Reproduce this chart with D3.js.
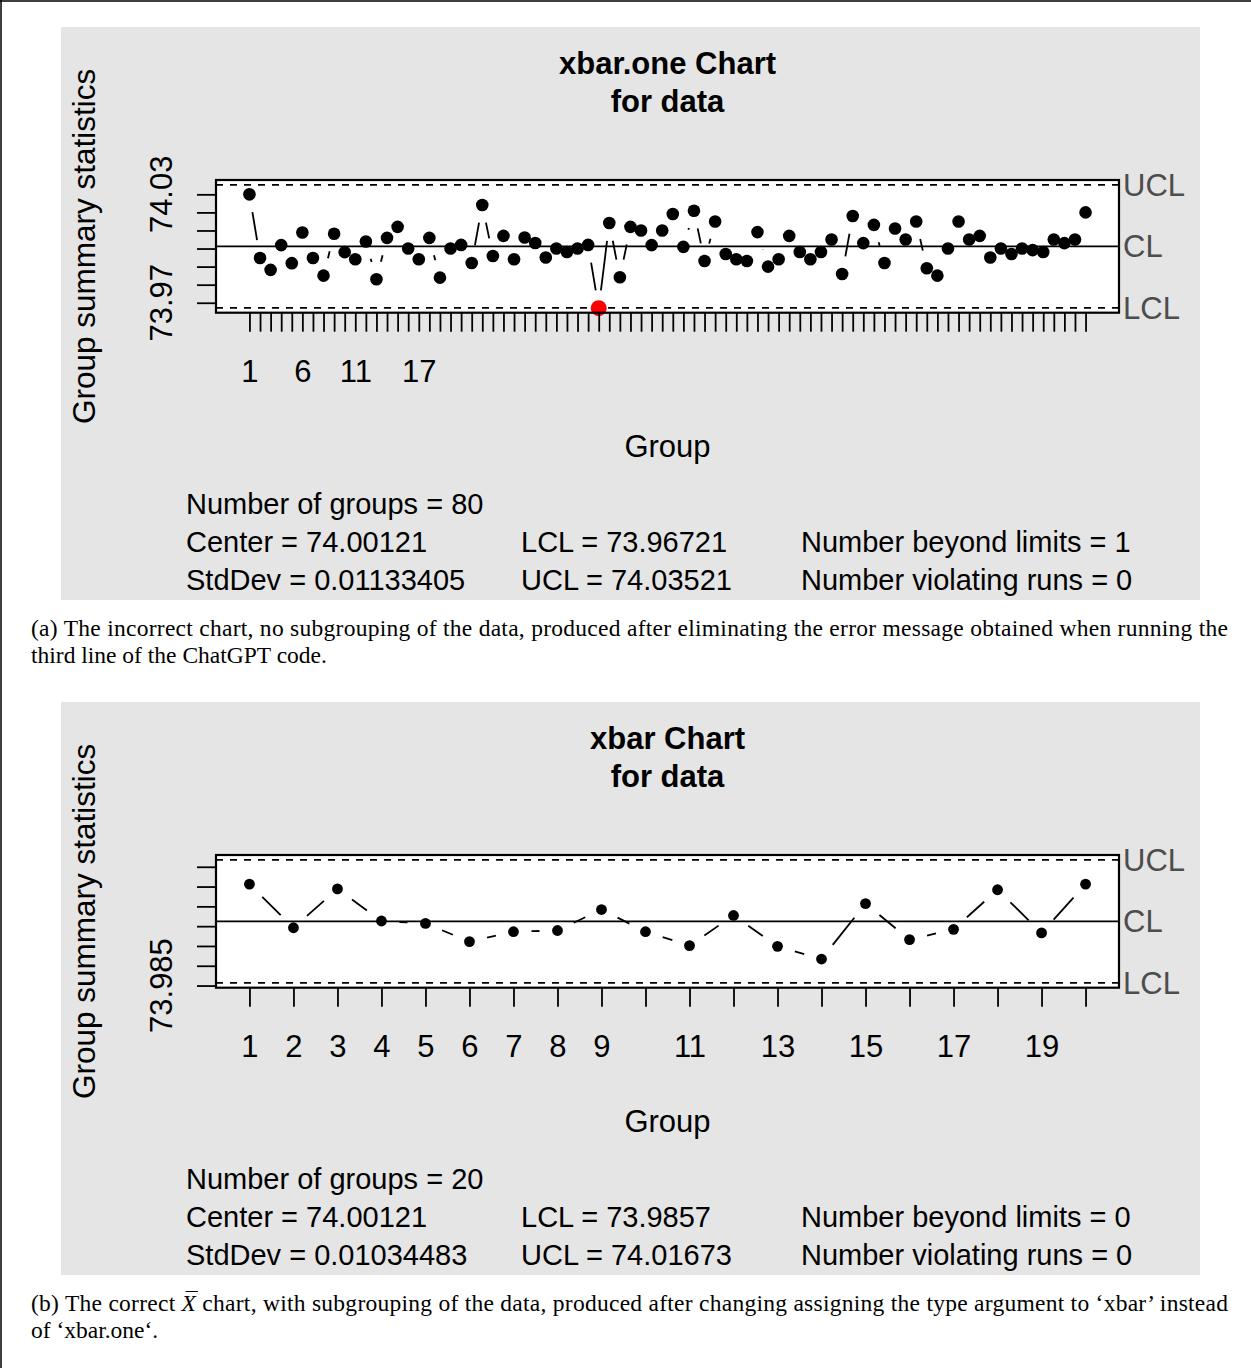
<!DOCTYPE html>
<html>
<head>
<meta charset="utf-8">
<script src="https://cdn.jsdelivr.net/npm/d3@7"></script>
<style>
  html, body { margin: 0; padding: 0; background: #fff; }
  svg { display: block; }
  .tick line { stroke: #000; stroke-width: 1.8; }
</style>
</head>
<body>
<svg id="fig" width="1251" height="1368"></svg>
<script>
// ---- data: chart (a), xbar.one, 80 single observations
var xbarOneValues = [
    74.0300, 73.9948, 73.9882, 74.0019, 73.9919, 74.0089, 73.9948, 73.9850, 74.0082, 73.9980,
    73.9941, 74.0039, 73.9830, 74.0059, 74.0120, 74.0000, 73.9941, 74.0059, 73.9839, 74.0000,
    74.0020, 73.9920, 74.0241, 73.9959, 74.0070, 73.9941, 74.0061, 74.0031, 73.9950, 74.0000,
    73.9981, 74.0000, 74.0020, 73.9670, 74.0141, 73.9841, 74.0120, 74.0100, 74.0019, 74.0100,
    74.0191, 74.0009, 74.0209, 73.9931, 74.0150, 73.9970, 73.9941, 73.9931, 74.0091, 73.9900,
    73.9941, 74.0070, 73.9981, 73.9941, 73.9981, 74.0050, 73.9859, 74.0180, 74.0030, 74.0131,
    73.9920, 74.0111, 74.0050, 74.0150, 73.9891, 73.9850, 74.0000, 74.0150, 74.0050, 74.0070,
    73.9950, 74.0000, 73.9970, 74.0000, 73.9991, 73.9981, 74.0050, 74.0030, 74.0050, 74.0200
];
var xbarOneLimits = {center: 74.00121, lcl: 73.96721, ucl: 74.03521};
var xbarOneYTicks = [73.97, 73.98, 73.99, 74.00, 74.01, 74.02, 74.03];
var xbarOneYLabels = ["73.97", "74.03"];
var xbarOneXLabels = [1, 6, 11, 17];
var xbarOneTitle = ["xbar.one Chart", "for data"];
var xbarOneStats = [
    ["Number of groups = 80", "", ""],
    ["Center = 74.00121", "LCL = 73.96721", "Number beyond limits = 1"],
    ["StdDev = 0.01133405", "UCL = 74.03521", "Number violating runs = 0"]
];
var captionA = [
    "(a) The incorrect chart, no subgrouping of the data, produced after eliminating the error message obtained when running the",
    "third line of the ChatGPT code."
];

// ---- data: chart (b), xbar, 20 subgroup means
var xbarValues = [
    74.0106, 73.9996, 74.0094, 74.0013, 74.0007, 73.9961, 73.9986, 73.9989, 74.0042, 73.9986,
    73.9951, 74.0027, 73.9949, 73.9917, 74.0057, 73.9966, 73.9992, 74.0092, 73.9983, 74.0106
];
var xbarLimits = {center: 74.00121, lcl: 73.9857, ucl: 74.01673};
var xbarYTicks = [73.985, 73.990, 73.995, 74.000, 74.005, 74.010, 74.015];
var xbarYLabels = ["73.985"];
var xbarXLabels = [1, 2, 3, 4, 5, 6, 7, 8, 9, 11, 13, 15, 17, 19];
var xbarTitle = ["xbar Chart", "for data"];
var xbarStats = [
    ["Number of groups = 20", "", ""],
    ["Center = 74.00121", "LCL = 73.9857", "Number beyond limits = 0"],
    ["StdDev = 0.01034483", "UCL = 74.01673", "Number violating runs = 0"]
];
var captionB = [
    ["(b) The correct ", "X", " chart, with subgrouping of the data, produced after changing assigning the type argument to \u2018xbar\u2019 instead"],
    "of \u2018xbar.one\u2018."
];

var sans = "'Liberation Sans', Arial, Helvetica, sans-serif";
var serif = "'Liberation Serif', 'Times New Roman', serif";

var svg = d3.select("#fig");

// frame of the figure: top and left rules only
svg.append("line").attr("x1", 0).attr("x2", 1251).attr("y1", 1).attr("y2", 1)
    .attr("stroke", "#000").attr("stroke-width", 1.5);
svg.append("line").attr("x1", 1).attr("x2", 1).attr("y1", 0).attr("y2", 1368)
    .attr("stroke", "#000").attr("stroke-width", 1.5);

function qccChart(off, values, limits, yTicks, yLabels, xLabels, title, stats, radius) {
    var g = svg.append("g").attr("transform", "translate(0," + off + ")")
        , box = {left: 216, right: 1119, top: 180, bottom: 312.7}
        , n = values.length
        , padX = 0.04 * (n - 1)
        , padY = 0.04 * (limits.ucl - limits.lcl)
        , gap = 18
        ;

    var x = d3.scaleLinear()
        .domain([1 - padX, n + padX])
        .range([box.left, box.right]);
    var y = d3.scaleLinear()
        .domain([limits.lcl - padY, limits.ucl + padY])
        .range([box.bottom, box.top]);

    // grey background
    g.append("rect")
        .attr("x", 61).attr("y", 27)
        .attr("width", 1139).attr("height", 573)
        .attr("fill", "#e5e5e5");

    g.append("rect")
        .attr("x", box.left).attr("y", box.top)
        .attr("width", box.right - box.left).attr("height", box.bottom - box.top)
        .attr("fill", "#fff");

    // title
    g.append("text")
        .attr("x", (box.left + box.right) / 2)
        .attr("text-anchor", "middle")
        .attr("font-family", sans).attr("font-weight", "bold").attr("font-size", 31)
        .selectAll("tspan").data(title).enter().append("tspan")
        .attr("x", (box.left + box.right) / 2)
        .attr("y", function(d, i) { return 74 + i * 38; })
        .text(function(d) { return d; });

    // limit lines
    g.append("line")
        .attr("x1", box.left).attr("x2", box.right)
        .attr("y1", y(limits.center)).attr("y2", y(limits.center))
        .attr("stroke", "#000").attr("stroke-width", 1.8);
    [limits.ucl, limits.lcl].forEach(function(v) {
        g.append("line")
            .attr("x1", box.left).attr("x2", box.right)
            .attr("y1", y(v)).attr("y2", y(v))
            .attr("stroke", "#000").attr("stroke-width", 1.8)
            .attr("stroke-dasharray", "7,7");
    });

    // connecting segments, type "b": cut short around each point
    var pts = values.map(function(v, i) { return [x(i + 1), y(v)]; });
    var segs = [];
    for (var i = 1; i < pts.length; i++) {
        var a = pts[i - 1], b = pts[i]
            , dx = b[0] - a[0], dy = b[1] - a[1]
            , len = Math.sqrt(dx * dx + dy * dy);
        if (len > 2 * gap) {
            segs.push([a[0] + dx * gap / len, a[1] + dy * gap / len,
                       b[0] - dx * gap / len, b[1] - dy * gap / len]);
        }
    }
    g.append("g").selectAll("line").data(segs).enter().append("line")
        .attr("x1", function(d) { return d[0]; })
        .attr("y1", function(d) { return d[1]; })
        .attr("x2", function(d) { return d[2]; })
        .attr("y2", function(d) { return d[3]; })
        .attr("stroke", "#000").attr("stroke-width", 1.8);

    var out = function(d) { return d < limits.lcl || d > limits.ucl; };
    g.append("g").selectAll("circle").data(values).enter().append("circle")
        .attr("cx", function(d, i) { return x(i + 1); })
        .attr("cy", function(d) { return y(d); })
        .attr("r", function(d) { return out(d) ? 8 : radius; })
        .attr("fill", function(d) { return out(d) ? "#ff0000" : "#000"; });

    // box
    g.append("rect")
        .attr("x", box.left).attr("y", box.top)
        .attr("width", box.right - box.left).attr("height", box.bottom - box.top)
        .attr("fill", "none").attr("stroke", "#000").attr("stroke-width", 2.2);

    // axes
    var yAxis = g.append("g")
        .attr("transform", "translate(" + box.left + ",0)")
        .call(d3.axisLeft(y).tickValues(yTicks).tickSize(19).tickFormat(""));
    yAxis.select(".domain").remove();

    yLabels.forEach(function(t) {
        var v = +t;
        g.append("text")
            .attr("transform", "translate(172," + y(v) + ") rotate(-90)")
            .attr("text-anchor", "middle")
            .attr("font-family", sans).attr("font-size", 31)
            .text(t);
    });

    var xAxis = g.append("g")
        .attr("transform", "translate(0," + box.bottom + ")")
        .call(d3.axisBottom(x)
            .tickValues(values.map(function(d, i) { return i + 1; }))
            .tickSize(19)
            .tickFormat(function(d) { return xLabels.indexOf(d) >= 0 ? d : ""; }));
    xAxis.select(".domain").remove();
    xAxis.selectAll("text")
        .attr("y", 69).attr("dy", null)
        .attr("fill", "#000")
        .attr("font-family", sans).attr("font-size", 31);

    g.append("text")
        .attr("x", (box.left + box.right) / 2).attr("y", 457)
        .attr("text-anchor", "middle")
        .attr("font-family", sans).attr("font-size", 31)
        .text("Group");

    g.append("text")
        .attr("transform", "translate(95," + (box.top + box.bottom) / 2 + ") rotate(-90)")
        .attr("text-anchor", "middle")
        .attr("font-family", sans).attr("font-size", 31.5)
        .text("Group summary statistics");

    // UCL / CL / LCL labels
    [["UCL", limits.ucl], ["CL", limits.center], ["LCL", limits.lcl]].forEach(function(d) {
        g.append("text")
            .attr("x", 1123).attr("y", y(d[1]) + 11)
            .attr("font-family", sans).attr("font-size", 31)
            .attr("fill", "#4d4d4d")
            .text(d[0]);
    });

    // summary statistics
    var cols = [186, 521, 801];
    stats.forEach(function(row, r) {
        row.forEach(function(t, c) {
            if (!t) return;
            g.append("text")
                .attr("x", cols[c]).attr("y", 514 + r * 38)
                .attr("font-family", sans).attr("font-size", 29)
                .text(t);
        });
    });
}

qccChart(0, xbarOneValues, xbarOneLimits, xbarOneYTicks, xbarOneYLabels, xbarOneXLabels,
    xbarOneTitle, xbarOneStats, 6.3);
qccChart(675, xbarValues, xbarLimits, xbarYTicks, xbarYLabels, xbarXLabels,
    xbarTitle, xbarStats, 5.4);

// captions
function caption(top, lines) {
    var t1 = svg.append("text")
        .attr("x", 31).attr("y", top)
        .attr("font-family", serif).attr("font-size", 23.5)
        .attr("textLength", 1197).attr("lengthAdjust", "spacing");
    var first = lines[0];
    if (typeof first === "string") {
        t1.text(first);
    } else {
        t1.append("tspan").text(first[0]);
        t1.append("tspan").attr("font-style", "italic").text(first[1]);
        t1.append("tspan").text(first[2]);
        // bar over the X
        try {
            var idx = first[0].length
                , s = t1.node().getStartPositionOfChar(idx)
                , e = t1.node().getEndPositionOfChar(idx);
            svg.append("line")
                .attr("x1", s.x + 4).attr("x2", e.x + 2)
                .attr("y1", top - 19.5).attr("y2", top - 19.5)
                .attr("stroke", "#000").attr("stroke-width", 1);
        } catch (err) {}
    }
    svg.append("text")
        .attr("x", 31).attr("y", top + 27)
        .attr("font-family", serif).attr("font-size", 23.5)
        .text(lines[1]);
}
caption(636, captionA);
caption(1311, captionB);
</script>
</body>
</html>
